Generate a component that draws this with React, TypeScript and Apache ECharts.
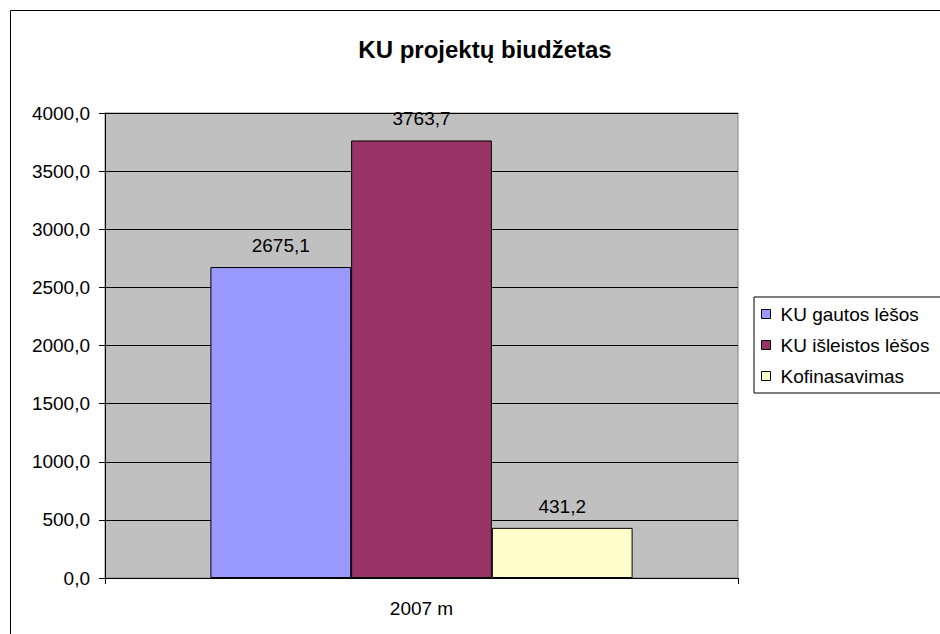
import React, { useEffect, useRef } from "react";
import * as echarts from "echarts";

const categories = ["2007 m"];
const seriesNames = ["KU gautos lėšos", "KU išleistos lėšos", "Kofinasavimas"];
const seriesValues = [[2675.1], [3763.7], [431.2]];
const seriesColors = ["#9999FF", "#993366", "#FFFFCC"];
const yTicks = { min: 0, max: 4000, interval: 500 };

const fmt = (v: number) => v.toFixed(1).replace(".", ",");

export default function App() {
  const ref = useRef<HTMLDivElement>(null);
  useEffect(() => {
    if (!ref.current) return;
    const chart = echarts.init(ref.current, null, { renderer: "svg" });
    const font = "Liberation Sans, Arial, sans-serif";
    chart.setOption({
      animation: false,
      backgroundColor: "#FFFFFF",
      textStyle: { fontFamily: font },
      title: {
        text: "KU projektų biudžetas",
        left: 480,
        top: 32,
        textAlign: "center",
        textStyle: { fontFamily: font, fontSize: 24, fontWeight: "bold", color: "#000" },
      },
      graphic: [
        {
          type: "rect",
          shape: { x: 10.5, y: 10.5, width: 1000, height: 1000 },
          style: { fill: "none", stroke: "#000", lineWidth: 1 },
          silent: true,
          z: -1,
        },
      ],
      legend: {
        orient: "vertical",
        left: 754,
        top: 297,
        padding: [7, 40, 7, 7],
        itemGap: 11,
        itemWidth: 9,
        itemHeight: 9,
        backgroundColor: "#FFFFFF",
        borderColor: "#000",
        borderWidth: 1,
        borderRadius: 0,
        icon: "rect",
        textStyle: { fontFamily: font, fontSize: 19, color: "#000", lineHeight: 20, padding: [0, 0, 0, 5] },
        data: seriesNames.map((n) => ({ name: n, itemStyle: { borderColor: "#000", borderWidth: 1 } })),
      },
      grid: {
        left: 105,
        top: 113,
        right: 202,
        bottom: 56,
        show: true,
        backgroundColor: "#C0C0C0",
        borderColor: "#808080",
        borderWidth: 1,
      },
      xAxis: {
        type: "category",
        data: categories,
        axisLine: { show: true, lineStyle: { color: "#000", width: 1 } },
        axisTick: { show: true, length: 6, alignWithLabel: false, lineStyle: { color: "#000" } },
        axisLabel: { fontFamily: font, fontSize: 19, color: "#000", margin: 21 },
      },
      yAxis: {
        type: "value",
        min: yTicks.min,
        max: yTicks.max,
        interval: yTicks.interval,
        axisLine: { show: true, lineStyle: { color: "#000", width: 1 } },
        axisTick: { show: true, length: 6, lineStyle: { color: "#000" } },
        axisLabel: { fontFamily: font, fontSize: 19, color: "#000", margin: 15, formatter: (v: number) => fmt(v) },
        splitLine: { show: true, lineStyle: { color: "#000", width: 1 } },
      },
      series: seriesNames.map((name, i) => ({
        name,
        type: "bar",
        data: seriesValues[i],
        barGap: "0%",
        barCategoryGap: "33.3%",
        itemStyle: { color: seriesColors[i], borderColor: "#000", borderWidth: 1 },
        label: {
          show: true,
          position: "top",
          distance: 12,
          fontFamily: font,
          fontSize: 19,
          color: "#000",
          formatter: (p: any) => fmt(p.value),
        },
      })),
    });
    return () => chart.dispose();
  }, []);
  return <div ref={ref} style={{ position: "fixed", left: 0, top: 0, width: 940, height: 634 }} />;
}
